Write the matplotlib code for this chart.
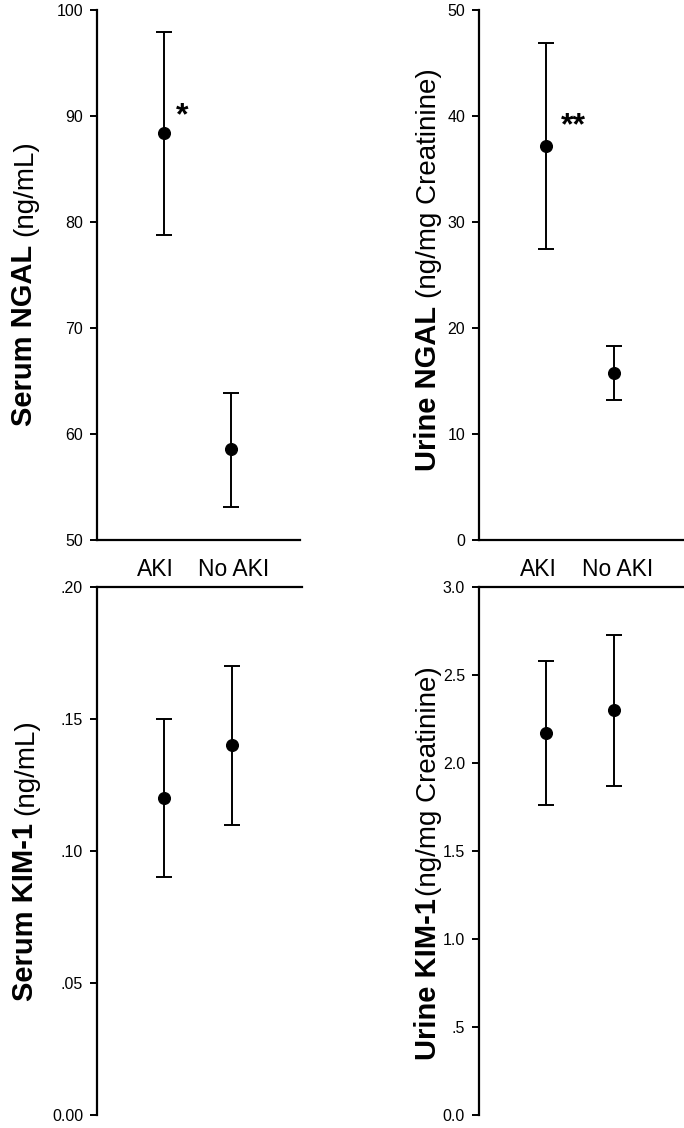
import numpy as np
import matplotlib
matplotlib.use('Agg')
import matplotlib.pyplot as plt

plt.rcParams['font.family'] = ['Liberation Sans', 'DejaVu Sans']

W, H = 684, 1128

# data: group means and error bar ends (lower, upper)
groups = ['AKI', 'No AKI']
serum_ngal = [88.4, 58.6]
serum_ngal_lo = [78.8, 53.1]
serum_ngal_hi = [97.9, 63.9]

urine_ngal = [37.2, 15.8]
urine_ngal_lo = [27.5, 13.2]
urine_ngal_hi = [46.9, 18.3]

serum_kim = [0.120, 0.140]
serum_kim_lo = [0.090, 0.110]
serum_kim_hi = [0.150, 0.170]

urine_kim = [2.17, 2.30]
urine_kim_lo = [1.76, 1.87]
urine_kim_hi = [2.58, 2.73]

ticks_sn = [50, 60, 70, 80, 90, 100]
ticks_un = [0, 10, 20, 30, 40, 50]
ticks_sk = [0.0, 0.05, 0.10, 0.15, 0.20]
labels_sk = ['0.00', '.05', '.10', '.15', '.20']
ticks_uk = [0.0, 0.5, 1.0, 1.5, 2.0, 2.5, 3.0]
labels_uk = ['0.0', '.5', '1.0', '1.5', '2.0', '2.5', '3.0']

fig = plt.figure(figsize=(W / 100, H / 100), dpi=100)


def make_ax(left, top, right, bottom):
    # pixel box -> figure fraction
    return fig.add_axes([left / W, 1 - bottom / H, (right - left) / W, (bottom - top) / H])


def draw(ax, mean, lo, hi, ylim, ticks, labels, top_axis):
    x = np.arange(1, len(mean) + 1)
    mean = np.array(mean)
    yerr = [mean - np.array(lo), np.array(hi) - mean]
    ax.errorbar(x, mean, yerr=yerr, fmt='o', color='black', ms=8.4,
                elinewidth=1.4, capsize=5.6, capthick=1.4)
    ax.set_xlim(0, 3.04)
    ax.set_ylim(*ylim)
    ax.set_yticks(ticks)
    ax.set_yticklabels(labels)
    ax.tick_params(axis='y', direction='out', length=5, width=1.4, pad=5,
                   labelsize=11.5)
    ax.spines['right'].set_visible(False)
    ax.spines['left'].set_linewidth(1.6)
    if top_axis:
        ax.spines['bottom'].set_visible(False)
        ax.spines['top'].set_linewidth(1.6)
        ax.set_xticks([])
    else:
        ax.spines['top'].set_visible(False)
        ax.spines['bottom'].set_linewidth(1.6)
        ax.set_xticks([0.88, 2.05])
        ax.set_xticklabels(groups)
        ax.tick_params(axis='x', length=0, pad=13, labelsize=16.5)
    ax.patch.set_visible(False)


def two_part_label(x_px, yc_px, bold, normal, gap):
    t1 = fig.text(x_px / W, 0, bold, rotation=90, rotation_mode='anchor',
                  ha='left', va='baseline', fontsize=21, fontweight='bold')
    t2 = fig.text(x_px / W, 0, normal, rotation=90, rotation_mode='anchor',
                  ha='left', va='baseline', fontsize=20)
    r = fig.canvas.get_renderer()
    h1 = t1.get_window_extent(r).height
    h2 = t2.get_window_extent(r).height
    y0 = (H - yc_px) - (h1 + gap + h2) / 2
    t1.set_position((x_px / W, y0 / H))
    t2.set_position((x_px / W, (y0 + h1 + gap) / H))


ax1 = make_ax(97, 10, 300, 540)
draw(ax1, serum_ngal, serum_ngal_lo, serum_ngal_hi, (50, 100), ticks_sn,
     [str(t) for t in ticks_sn], False)
ax1.text(1.27, 89.2, '*', fontsize=23, fontweight='bold', ha='center', va='baseline')

ax2 = make_ax(479, 10, 684, 540)
draw(ax2, urine_ngal, urine_ngal_lo, urine_ngal_hi, (0, 50), ticks_un,
     [str(t) for t in ticks_un], False)
ax2.text(1.40, 38.3, '**', fontsize=23, fontweight='bold', ha='center', va='baseline')

ax3 = make_ax(97, 587, 302, 1115)
draw(ax3, serum_kim, serum_kim_lo, serum_kim_hi, (0, 0.20), ticks_sk, labels_sk, True)

ax4 = make_ax(479, 587, 684, 1115)
draw(ax4, urine_kim, urine_kim_lo, urine_kim_hi, (0, 3.0), ticks_uk, labels_uk, True)

two_part_label(32, 283, 'Serum NGAL', '(ng/mL)', 8)
two_part_label(436, 270, 'Urine NGAL', '(ng/mg Creatinine)', 8)
two_part_label(33, 860, 'Serum KIM-1', '(ng/mL)', 8)
two_part_label(436, 863, 'Urine KIM-1', '(ng/mg Creatinine)', 2)

fig.savefig('out.png', dpi=100)
